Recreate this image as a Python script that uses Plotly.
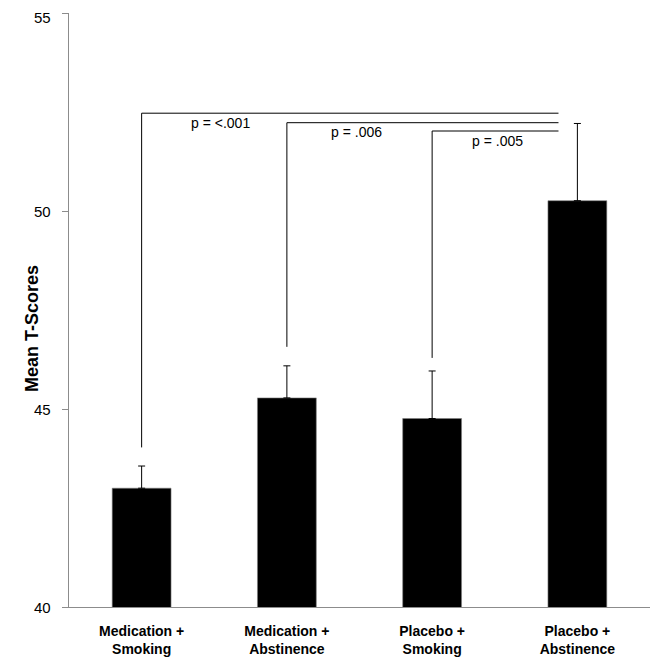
import plotly.graph_objects as go

categories = ["Medication +<br>Smoking", "Medication +<br>Abstinence",
              "Placebo +<br>Smoking", "Placebo +<br>Abstinence"]
means = [43.00, 45.28, 44.76, 50.26]
errors = [0.56, 0.81, 1.20, 1.95]

# significance brackets: start category index, end position, bracket height, bottom of drop line
bracket_start = [0, 1, 2]
bracket_end = [2.87, 2.87, 2.87]
bracket_top = [52.47, 52.23, 52.02]
bracket_bottom = [44.03, 46.57, 46.29]
bracket_labels = ["p = <.001", "p = .006", "p = .005"]
label_x = [0.54, 1.48, 2.45]
label_y = [52.22, 51.99, 51.78]

y_ticks = [40, 45, 50, 55]
y_tick_labels = ["40", "45", "50", "55"]

FONT = "Liberation Sans, Arial, sans-serif"

fig = go.Figure()
fig.add_trace(go.Bar(
    x=list(range(len(categories))),
    y=means,
    width=0.405,
    marker=dict(color="black", line=dict(color="#7f7f7f", width=0.6)),
    error_y=dict(type="data", symmetric=False, array=errors,
                 arrayminus=[0] * len(errors), color="black",
                 thickness=1, width=3.5),
))

shapes = []
for s, e, t, b in zip(bracket_start, bracket_end, bracket_top, bracket_bottom):
    shapes.append(dict(type="line", xref="x", yref="y", x0=s, x1=s, y0=b, y1=t,
                       line=dict(color="black", width=1)))
    shapes.append(dict(type="line", xref="x", yref="y", x0=s, x1=e, y0=t, y1=t,
                       line=dict(color="black", width=1)))

annotations = []
for lx, ly, txt in zip(label_x, label_y, bracket_labels):
    annotations.append(dict(x=lx, y=ly, xref="x", yref="y", text=txt,
                            showarrow=False, font=dict(family=FONT, size=14, color="black")))

# y tick labels (placed as text beside the axis ticks)
y_max = max(y_ticks)
for v, txt in zip(y_ticks, y_tick_labels):
    annotations.append(dict(x=0, y=v, xref="paper", yref="y", text=txt,
                            showarrow=False, xanchor="right", yanchor="middle",
                            xshift=-16, yshift=(-4 if v == y_max else 0),
                            font=dict(family=FONT, size=15, color="black")))

# y-axis title
annotations.append(dict(x=0, y=0.468, xref="paper", yref="paper", xshift=-37,
                        text="<b>Mean T-Scores</b>", textangle=-90, showarrow=False,
                        xanchor="center", yanchor="middle",
                        font=dict(family=FONT, size=18, color="black")))

fig.update_layout(
    width=650, height=655,
    margin=dict(l=61, r=8, t=5, b=56, autoexpand=False),
    paper_bgcolor="white", plot_bgcolor="white",
    showlegend=False,
    shapes=shapes,
    annotations=annotations,
    font=dict(family=FONT, color="black"),
)
fig.update_xaxes(
    tickmode="array", tickvals=list(range(len(categories))), ticktext=categories,
    range=[-0.5, 3.5], showline=True, linecolor="#8c8c8c", linewidth=1,
    ticks="", showgrid=False, zeroline=False, automargin=False,
    ticklabelstandoff=11,
    tickfont=dict(family=FONT, size=14, color="black", weight="bold"),
)
fig.update_yaxes(
    range=[40, 55], tickvals=y_ticks, showticklabels=False,
    showline=True, linecolor="#8c8c8c", linewidth=1,
    ticks="outside", ticklen=6, tickwidth=1, tickcolor="#8c8c8c",
    showgrid=False, zeroline=False, automargin=False,
)

fig.write_html("out.html")
